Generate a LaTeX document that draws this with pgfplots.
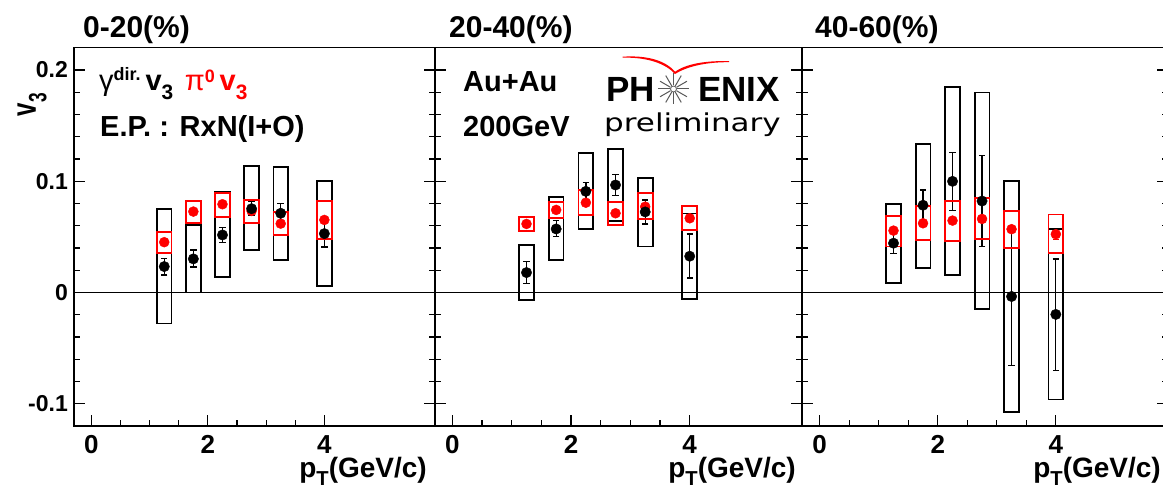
\documentclass[border=0pt]{standalone}
\usepackage{pgfplots}
\pgfplotsset{compat=1.18}
\usepackage{pgfplotstable}
\usepackage{fontspec}
\usepackage{graphicx}
\setmainfont{Liberation Sans}
\newfontfamily\dejavu{DejaVu Sans}
\newcommand\fs[1]{\fontsize{#1}{#1}\selectfont}
\newcommand\lsub[1]{\raisebox{-0.3em}{\scalebox{0.72}{#1}}}
\newcommand\lsup[2]{\raisebox{#1}{\scalebox{0.62}{#2}}}

% black: direct photon v3 ; columns x, y, stat+, stat-, sys low, sys high
\pgfplotstableread{
x y ep em lo hi
1.25 0.0233 0.0075 0.0075 -0.0278 0.0748
1.75 0.0302 0.0081 0.0072 0.0000 0.0604
2.25 0.0517 0.0070 0.0065 0.0140 0.0900
2.75 0.0753 0.0063 0.0063 0.0383 0.1134
3.25 0.0712 0.0088 0.0096 0.0290 0.1125
4.00 0.0529 0.0121 0.0119 0.0057 0.0999
}\blackA
\pgfplotstableread{
x y e lo hi
1.25 0.0452 0.002 0.0353 0.0547
1.75 0.0727 0.002 0.0628 0.0825
2.25 0.0793 0.002 0.0682 0.0891
2.75 0.0733 0.002 0.0625 0.0831
3.25 0.0619 0.002 0.0515 0.0720
4.00 0.0652 0.002 0.0482 0.0822
}\redA
\pgfplotstableread{
x y ep em lo hi
1.25 0.0179 0.0099 0.0098 -0.0068 0.0428
1.75 0.0571 0.0075 0.0071 0.0293 0.0858
2.25 0.0909 0.0078 0.0071 0.0571 0.1253
2.75 0.0966 0.0096 0.0096 0.0643 0.1286
3.25 0.0724 0.0107 0.0108 0.0413 0.1031
4.00 0.0326 0.0200 0.0197 -0.0057 0.0709
}\blackB
\pgfplotstableread{
x y e lo hi
1.25 0.0616 0.002 0.0556 0.0679
1.75 0.0742 0.002 0.0670 0.0816
2.25 0.0807 0.002 0.0697 0.0918
2.75 0.0712 0.002 0.0607 0.0816
3.25 0.0771 0.002 0.0664 0.0891
4.00 0.0667 0.002 0.0562 0.0778
}\redB
\pgfplotstableread{
x y ep em lo hi
1.25 0.0443 0.0092 0.0090 0.0087 0.0796
1.75 0.0784 0.0137 0.0147 0.0222 0.1336
2.25 0.0999 0.0260 0.0264 0.0156 0.1845
2.75 0.0822 0.0410 0.0409 -0.0149 0.1797
3.25 -0.0036 0.0628 0.0621 -0.1073 0.1004
4.00 -0.0197 0.0499 0.0503 -0.0962 0.0569
}\blackC
\pgfplotstableread{
x y e lo hi
1.25 0.0556 0.002 0.0413 0.0690
1.75 0.0622 0.002 0.0473 0.0780
2.25 0.0646 0.002 0.0464 0.0822
2.75 0.0661 0.002 0.0479 0.0847
3.25 0.0569 0.002 0.0401 0.0733
4.00 0.0524 0.005 0.0353 0.0700
}\redC

\pgfplotsset{
  panel/.style={
    scale only axis, width=#1, height=378.3pt, anchor=south west,
    xmin=-0.3, xmax=5.9, ymin=-0.12, ymax=0.22,
    xtick={0,2,4}, minor x tick num=3,
    ytick={-0.1,0,0.1,0.2}, minor y tick num=4,
    xtick pos=left, ytick pos=both,
    tick align=inside,
    major tick length=11pt, minor tick length=6pt,
    axis line style={line width=1.3pt, black},
    tick style={line width=1.1pt, black},
    xticklabels={0,2,4},
    xticklabel style={font=\fs{26}\bfseries, inner sep=0pt, yshift=-9pt},
    yticklabels={},
    clip=true,
  },
  sysbox/.style={
    only marks, scatter, mark=*, mark size=0pt,
    mark options={draw=none, fill=none},
    visualization depends on={\thisrow{hi}-\thisrow{lo} \as \boxh},
    scatter/@pre marker code/.code={%
      \draw[draw=#1, fill=none, line width=1.8pt] (axis direction cs:-0.125,0) rectangle (axis direction cs:0.125,\boxh);
      \scope},
    scatter/@post marker code/.code={\endscope},
  },
  blackpts/.style={
    only marks, black, mark=*, mark size=5.2pt,
    mark options={fill=black, draw=black},
    error bars/y dir=both, error bars/y explicit,
    error bars/error mark options={black, mark size=3.2pt, line width=1.3pt, rotate=90},
    error bars/error bar style={line width=1.3pt, black},
  },
  redpts/.style={
    only marks, red, mark=*, mark size=5pt,
    mark options={fill=red, draw=red},
    error bars/y dir=both, error bars/y explicit,
    error bars/error mark options={red, mark size=3pt, line width=1.3pt, rotate=90},
    error bars/error bar style={line width=1.3pt, red},
  },
}

\begin{document}
\begin{tikzpicture}
\useasboundingbox (0pt,0pt) rectangle (1163pt,488pt);

% ---------- panel 1 ----------
\begin{axis}[panel=361pt, at={(74pt,62pt)},
  yticklabels={-0.1,0,0.1,0.2},
  yticklabel style={font=\fs{23}\bfseries, inner sep=0pt, xshift=-6pt}]
\addplot[black, line width=1.3pt, forget plot] coordinates {(-0.3,0) (5.9,0)};
\addplot[sysbox=black] table[x=x, y=lo] {\blackA};
\addplot[sysbox=red] table[x=x, y=lo] {\redA};
\addplot[redpts] table[x=x, y=y, y error plus=e, y error minus=e] {\redA};
\addplot[blackpts] table[x=x, y=y, y error plus=ep, y error minus=em] {\blackA};
\end{axis}

% ---------- panel 2 ----------
\begin{axis}[panel=368pt, at={(434.5pt,62pt)}]
\addplot[black, line width=1.3pt, forget plot] coordinates {(-0.3,0) (5.9,0)};
\addplot[sysbox=black] table[x=x, y=lo] {\blackB};
\addplot[sysbox=red] table[x=x, y=lo] {\redB};
\addplot[redpts] table[x=x, y=y, y error plus=e, y error minus=e] {\redB};
\addplot[blackpts] table[x=x, y=y, y error plus=ep, y error minus=em] {\blackB};
\end{axis}

% ---------- panel 3 ----------
\begin{axis}[panel=366pt, at={(802pt,62pt)}]
\addplot[black, line width=1.3pt, forget plot] coordinates {(-0.3,0) (5.9,0)};
\addplot[sysbox=black] table[x=x, y=lo] {\blackC};
\addplot[sysbox=red] table[x=x, y=lo] {\redC};
\addplot[redpts] table[x=x, y=y, y error plus=e, y error minus=e] {\redC};
\addplot[blackpts] table[x=x, y=y, y error plus=ep, y error minus=em] {\blackC};
\end{axis}

% titles
\node[anchor=base west, inner sep=0, font=\fs{30}\bfseries] at (83pt,450pt) {0-20(\%)};
\node[anchor=base west, inner sep=0, font=\fs{30}\bfseries] at (449pt,450pt) {20-40(\%)};
\node[anchor=base west, inner sep=0, font=\fs{30}\bfseries] at (815pt,450pt) {40-60(\%)};

% y label
\node[rotate=90, anchor=base east, inner sep=0, font=\fs{24}\bfseries] at (36pt,395pt) {\scalebox{1}[1.45]{v\lsub{3}}};

% x labels
\node[anchor=base east, inner sep=0, font=\fs{28}\bfseries] at (427pt,11pt) {p\lsub{T}(GeV/c)};
\node[anchor=base east, inner sep=0, font=\fs{28}\bfseries] at (796pt,11pt) {p\lsub{T}(GeV/c)};
\node[anchor=base east, inner sep=0, font=\fs{28}\bfseries] at (1161pt,11pt) {p\lsub{T}(GeV/c)};

% panel 1 texts
\node[anchor=base west, inner sep=0, font=\fs{29}\bfseries] at (99pt,397pt)
  {{\mdseries γ}\lsup{0.35em}{dir.}\,v\lsub{3}\hspace{0.4em}\textcolor{red}{{\mdseries π}\lsup{0.3em}{0}\,v\lsub{3}}};
\node[anchor=base west, inner sep=0, font=\fs{29}\bfseries] at (100pt,351pt) {E.P. : RxN(I+O)};

% panel 2 texts
\node[anchor=base west, inner sep=0, font=\fs{29}\bfseries] at (463pt,396pt) {Au+Au};
\node[anchor=base west, inner sep=0, font=\fs{29}\bfseries] at (463pt,351pt) {200GeV};

% PHENIX logo
\node[anchor=base west, inner sep=0, font=\fs{35}\bfseries] at (606pt,386.3pt) {PH};
\node[anchor=base east, inner sep=0, font=\fs{35}\bfseries] at (780pt,386.3pt) {ENIX};
\foreach \a in {0,30,...,330}
  \draw[gray!70!black, line width=1pt] (673.5pt,399pt) ++(\a:3.5pt) -- ++(\a:12pt);
\draw[gray!70!black, line width=0.8pt] (673.5pt,399pt) circle (3pt);
\fill[red] (622.7pt,431.3pt) .. controls (648pt,433pt) and (666pt,427pt) .. (675pt,416.3pt)
  .. controls (686pt,424pt) and (705pt,427.5pt) .. (729pt,426.8pt)
  -- (729pt,425.8pt) .. controls (705pt,426pt) and (686pt,421pt) .. (675pt,414pt)
  .. controls (666pt,424pt) and (648pt,431pt) .. (622.7pt,430.3pt) -- cycle;
\node[anchor=base west, inner sep=0, font=\dejavu\fs{24.6}] at (604pt,356.3pt) {\scalebox{1.26}[1]{preliminary}};
\end{tikzpicture}
\end{document}
